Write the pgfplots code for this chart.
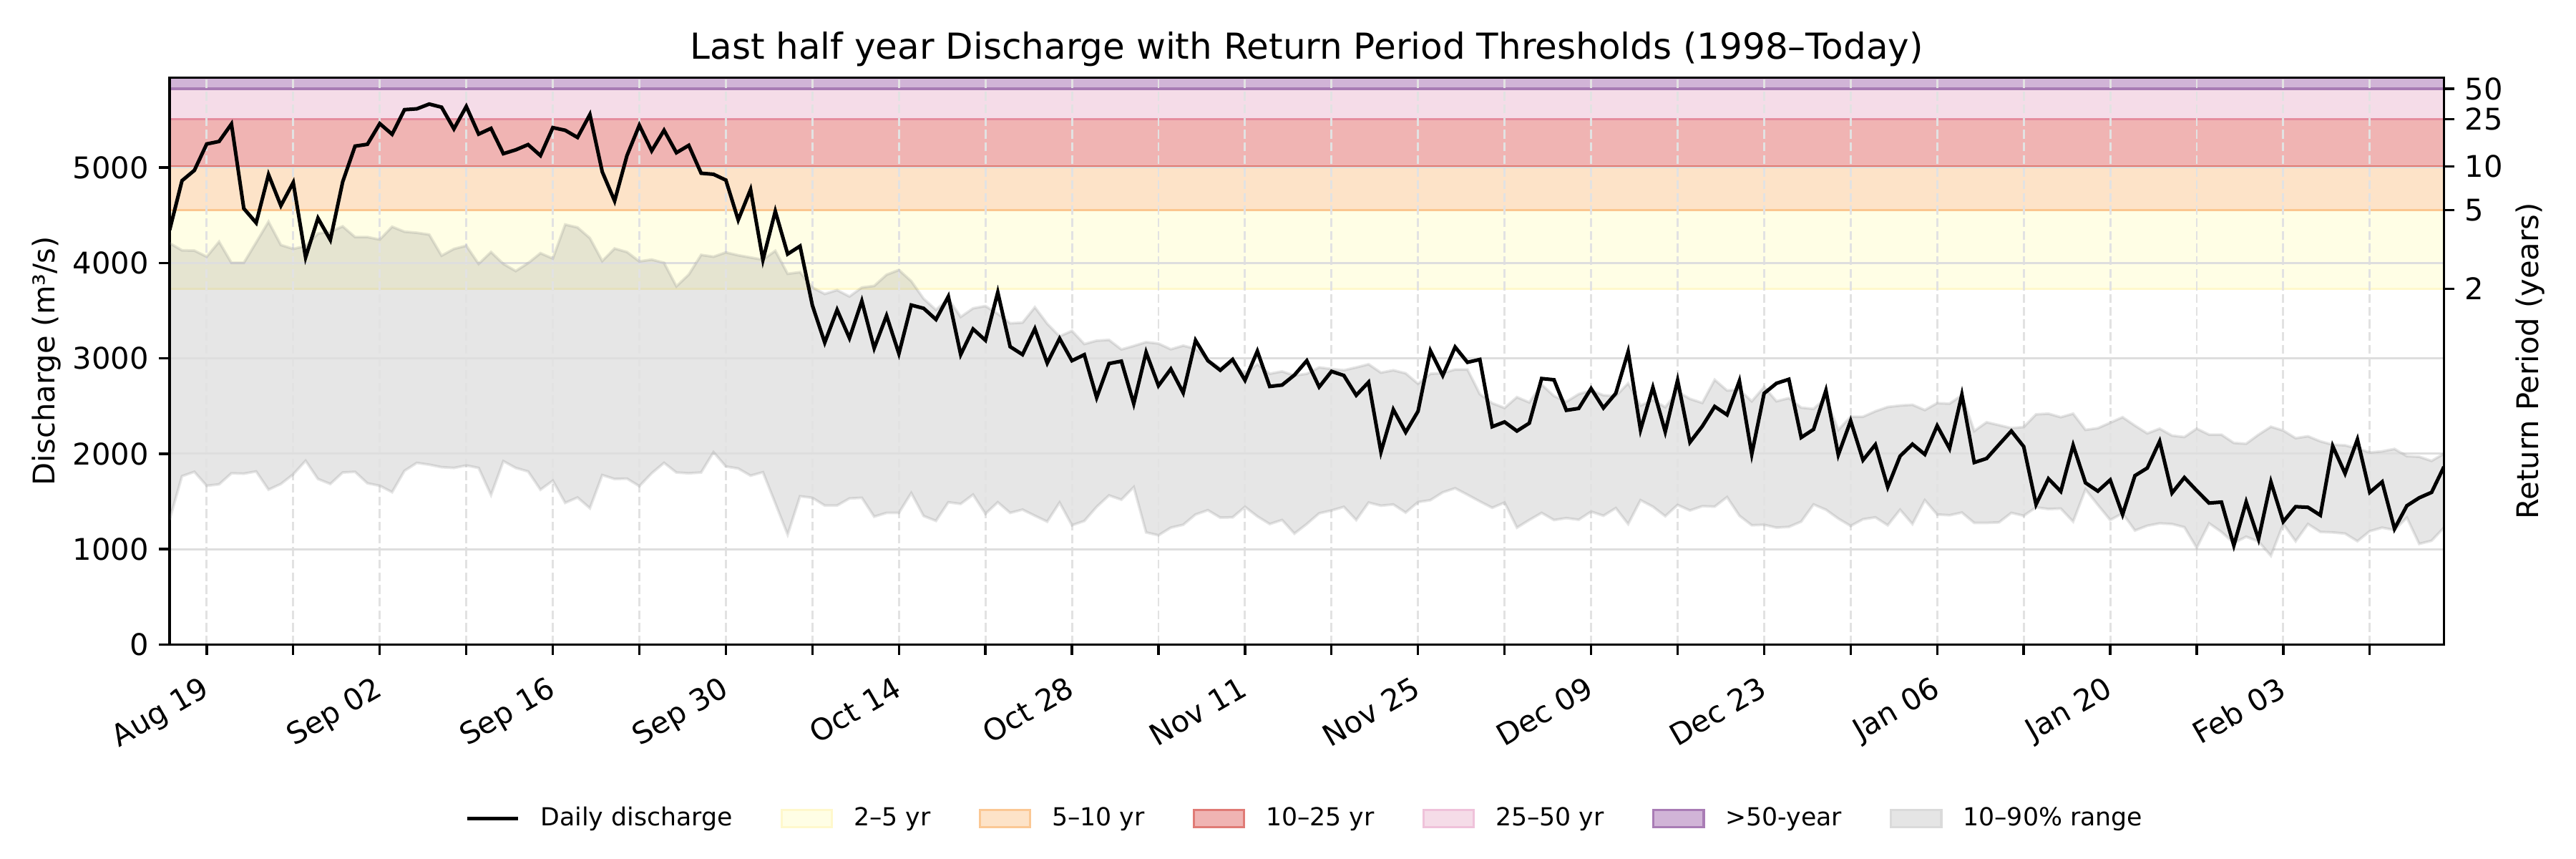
\documentclass[border=0pt]{standalone}
\usepackage{fontspec}
\setmainfont{DejaVu Sans}
\usepackage{pgfplots}
\usepackage{pgfplotstable}
\pgfplotsset{compat=1.18}
\definecolor{ctwo}{HTML}{FFFEE5}
\definecolor{cfive}{HTML}{FDE3C8}
\definecolor{cten}{HTML}{F0B4B3}
\definecolor{ctwentyfive}{HTML}{F5DCE8}
\definecolor{cfifty}{HTML}{D1B4D7}
\definecolor{etwo}{HTML}{FFF8CC}
\definecolor{efive}{HTML}{FBC894}
\definecolor{eten}{HTML}{E07B76}
\definecolor{etwentyfive}{HTML}{EFC2DA}
\definecolor{efifty}{HTML}{A97CB5}
\definecolor{lfive}{HTML}{FBC68F}
\definecolor{lten}{HTML}{E07B73}
\definecolor{ltwentyfive}{HTML}{E58D9E}
\definecolor{lfifty}{HTML}{A87BB4}
\definecolor{bandfill}{HTML}{808080}
\definecolor{bandedge}{HTML}{DADADA}
\definecolor{gridc}{HTML}{DEDEDE}
\definecolor{vgridc}{HTML}{E2E2E2}
\pgfplotsset{
  base/.style={
    scale only axis, width=762.8pt, height=190.1pt,
    at={(0pt,0pt)}, anchor=south west,
    xmin=0, xmax=184, ymin=0, ymax=5943,
    enlargelimits=false,
  }
}

\pgfplotstableread{
day q lo hi
0 4345 1310 4207
1 4862 1765 4132
2 4970 1810 4129
3 5247 1664 4065
4 5273 1679 4222
5 5456 1795 4001
6 4570 1791 4001
7 4420 1814 4215
8 4925 1623 4432
9 4600 1683 4188
10 4843 1784 4147
11 4058 1926 4177
12 4469 1735 4308
13 4241 1683 4327
14 4850 1803 4383
15 5224 1810 4271
16 5243 1690 4271
17 5460 1664 4245
18 5348 1597 4379
19 5606 1821 4327
20 5615 1904 4316
21 5665 1885 4297
22 5632 1859 4076
23 5405 1851 4147
24 5640 1877 4180
25 5350 1851 3990
26 5410 1567 4114
27 5145 1922 3990
28 5185 1851 3915
29 5240 1814 3998
30 5125 1623 4102
31 5418 1717 4046
32 5390 1485 4402
33 5315 1541 4372
34 5555 1429 4260
35 4955 1776 4020
36 4650 1735 4151
37 5125 1739 4114
38 5443 1660 4016
39 5175 1795 4035
40 5390 1904 4001
41 5155 1803 3755
42 5232 1795 3878
43 4940 1803 4084
44 4929 2016 4065
45 4868 1866 4110
46 4450 1845 4080
47 4770 1770 4057
48 4032 1806 4034
49 4542 1481 4127
50 4093 1152 3886
51 4176 1554 3903
52 3555 1538 3742
53 3165 1457 3675
54 3508 1457 3715
55 3212 1531 3648
56 3601 1538 3742
57 3106 1340 3759
58 3447 1380 3876
59 3049 1380 3926
60 3558 1588 3809
61 3524 1347 3625
62 3407 1296 3508
63 3648 1491 3625
64 3039 1474 3434
65 3307 1571 3524
66 3189 1370 3548
67 3692 1491 3467
68 3122 1380 3367
69 3039 1414 3374
70 3310 1350 3535
71 2950 1288 3363
72 3208 1488 3230
73 2975 1250 3288
74 3038 1295 3150
75 2588 1443 3185
76 2945 1563 3193
77 2970 1518 3093
78 2525 1650 3130
79 3063 1175 3170
80 2713 1145 3155
81 2888 1225 3095
82 2638 1255 3133
83 3188 1363 3100
84 2975 1408 2985
85 2875 1330 2900
86 2988 1333 2950
87 2770 1443 2838
88 3075 1343 2938
89 2705 1263 2838
90 2720 1305 2863
91 2825 1163 2820
92 2975 1263 2838
93 2700 1375 2905
94 2863 1405 2888
95 2820 1443 2875
96 2613 1305 2905
97 2750 1488 2938
98 2018 1455 2850
99 2463 1468 2875
100 2225 1383 2843
101 2445 1493 2733
102 3080 1513 2838
103 2820 1595 2845
104 3118 1638 2883
105 2958 1570 2883
106 2988 1500 2625
107 2283 1433 2530
108 2333 1488 2480
109 2238 1225 2593
110 2320 1305 2538
111 2788 1380 2725
112 2775 1305 2605
113 2455 1325 2545
114 2475 1308 2625
115 2683 1393 2663
116 2480 1350 2613
117 2633 1430 2605
118 3070 1263 2738
119 2250 1513 2505
120 2695 1445 2563
121 2230 1345 2488
122 2770 1463 2650
123 2120 1405 2575
124 2288 1450 2533
125 2495 1445 2775
126 2408 1545 2663
127 2763 1350 2670
128 1995 1250 2550
129 2633 1255 2700
130 2738 1225 2550
131 2780 1233 2583
132 2170 1288 2483
133 2255 1468 2470
134 2663 1413 2588
135 1988 1320 2250
136 2345 1243 2388
137 1933 1313 2388
138 2095 1333 2445
139 1650 1250 2490
140 1975 1413 2505
141 2100 1263 2513
142 1993 1513 2458
143 2293 1363 2530
144 2055 1355 2525
145 2620 1383 2613
146 1908 1275 2238
147 1950 1275 2330
148 2095 1280 2300
149 2238 1380 2268
150 2075 1350 2280
151 1468 1438 2413
152 1738 1420 2420
153 1605 1425 2383
154 2088 1288 2420
155 1695 1625 2250
156 1608 1463 2268
157 1725 1305 2325
158 1363 1375 2383
159 1770 1195 2295
160 1850 1245 2213
161 2130 1270 2263
162 1588 1263 2190
163 1750 1230 2175
164 1613 1013 2263
165 1483 1270 2200
166 1493 1180 2200
167 1038 1063 2113
168 1495 1130 2105
169 1105 1080 2200
170 1705 930 2283
171 1288 1263 2243
172 1445 1083 2163
173 1438 1263 2183
174 1355 1180 2130
175 2080 1175 2095
176 1793 1163 2088
177 2150 1083 2055
178 1595 1188 2013
179 1705 1225 2025
180 1213 1200 2050
181 1455 1330 1975
182 1538 1055 1968
183 1595 1088 1925
184 1863 1225 2000
}\data

\begin{document}
\begin{tikzpicture}
\useasboundingbox (-56.9pt,-71.9pt) rectangle (807.1pt,216.1pt);
% layer 1: return-period bands
\begin{axis}[base, hide axis]
\addplot[draw=none, fill=ctwo] coordinates {(0,3730) (184,3730) (184,4555) (0,4555)} -- cycle;
\addplot[draw=none, fill=cfive] coordinates {(0,4555) (184,4555) (184,5010) (0,5010)} -- cycle;
\addplot[draw=none, fill=cten] coordinates {(0,5010) (184,5010) (184,5505) (0,5505)} -- cycle;
\addplot[draw=none, fill=ctwentyfive] coordinates {(0,5505) (184,5505) (184,5825) (0,5825)} -- cycle;
\addplot[draw=none, fill=cfifty] coordinates {(0,5825) (184,5825) (184,5943) (0,5943)} -- cycle;
\addplot[etwo, line width=0.8pt] coordinates {(0,3730) (184,3730)};
\addplot[lfive, line width=0.8pt] coordinates {(0,4555) (184,4555)};
\addplot[lten, line width=0.8pt] coordinates {(0,5010) (184,5010)};
\addplot[ltwentyfive, line width=0.8pt] coordinates {(0,5505) (184,5505)};
\addplot[lfifty, line width=0.8pt] coordinates {(0,5825) (184,5825)};
\end{axis}
% layer 2: 10-90 % range as a stacked area
\begin{axis}[base, hide axis, stack plots=y]
\addplot[draw=none] table[x=day, y=lo] {\data};
\addplot[fill=bandfill, fill opacity=0.2, draw=none] table[x=day, y expr=\thisrow{hi}-\thisrow{lo}] {\data} \closedcycle;
\end{axis}
% layer 3: main axis with grid, line and legend
\begin{axis}[
  base,
  xtick={3,10,...,178},
  xticklabels={Aug 19,,Sep 02,,Sep 16,,Sep 30,,Oct 14,,Oct 28,,Nov 11,,Nov 25,,Dec 09,,Dec 23,,Jan 06,,Jan 20,,Feb 03,},
  ytick={0,1000,...,5000},
  scaled y ticks=false,
  /pgf/number format/1000 sep={},
  /pgf/number format/assume math mode=true,
  xtick pos=lower, ytick pos=left,
  tick align=outside, major tick length=3.5pt,
  tick style={line width=0.8pt, black},
  axis line style={line width=0.8pt},
  tick label style={font=\fontsize{10}{12}\selectfont},
  xticklabel style={xshift=-1pt, yshift=-2pt, rotate=30, anchor=north east},
  xmajorgrids, ymajorgrids,
  x grid style={vgridc, line width=0.7pt, dash pattern=on 2.96pt off 1.28pt},
  y grid style={gridc, line width=0.7pt},
  ylabel={Discharge (m³/s)},
  every axis y label/.style={at={(axis description cs:-0.0505,0.5)}, rotate=90, anchor=base, font=\fontsize{10}{12}\selectfont},
  title={Last half year Discharge with Return Period Thresholds (1998–Today)},
  every axis title/.style={at={(axis description cs:0.5,1)}, anchor=base, yshift=6.3pt, font=\fontsize{12}{14.4}\selectfont},
  legend columns=7,
  legend style={draw=none, fill=none, at={(0.5,-0.307)}, anchor=center,
    font=\fontsize{8.33}{10}\selectfont,
    /tikz/every odd column/.append style={column sep=4.9pt},
    /tikz/every even column/.append style={column sep=14.1pt}},
  legend cell align=left,
]
\addplot[forget plot, draw=bandfill, draw opacity=0.2, line width=0.9pt] table[x=day, y=hi] {\data};
\addplot[forget plot, draw=bandfill, draw opacity=0.2, line width=0.9pt] table[x=day, y=lo] {\data};
\addplot[forget plot, black, line width=1.2pt] table[x=day, y=q] {\data};
\addlegendimage{legend image code/.code={\draw[black, line width=1.2pt] (0pt,0pt) -- (17.2pt,0pt);}}
\addlegendentry{Daily discharge}
\addlegendimage{legend image code/.code={\draw[fill=ctwo, draw=etwo, line width=0.8pt] (0pt,-2.9pt) rectangle (16.9pt,2.9pt);}}
\addlegendentry{2–5 yr}
\addlegendimage{legend image code/.code={\draw[fill=cfive, draw=efive, line width=0.8pt] (0pt,-2.9pt) rectangle (16.9pt,2.9pt);}}
\addlegendentry{5–10 yr}
\addlegendimage{legend image code/.code={\draw[fill=cten, draw=eten, line width=0.8pt] (0pt,-2.9pt) rectangle (16.9pt,2.9pt);}}
\addlegendentry{10–25 yr}
\addlegendimage{legend image code/.code={\draw[fill=ctwentyfive, draw=etwentyfive, line width=0.8pt] (0pt,-2.9pt) rectangle (16.9pt,2.9pt);}}
\addlegendentry{25–50 yr}
\addlegendimage{legend image code/.code={\draw[fill=cfifty, draw=efifty, line width=0.8pt] (0pt,-2.9pt) rectangle (16.9pt,2.9pt);}}
\addlegendentry{>50-year}
\addlegendimage{legend image code/.code={\draw[fill=black!10, draw=bandedge, line width=0.8pt] (0pt,-2.9pt) rectangle (16.9pt,2.9pt);}}
\addlegendentry{10–90\% range}
\end{axis}
% layer 4: return-period axis
\begin{axis}[
  base,
  axis x line=none, axis y line*=right,
  axis line style={line width=0.8pt},
  tick align=outside, major tick length=3.5pt,
  tick style={line width=0.8pt, black},
  ytick={3730,4555,5010,5505,5825},
  yticklabels={2,5,10,25,50},
  tick label style={font=\fontsize{10}{12}\selectfont},
  ylabel={Return Period (years)},
  every axis y label/.style={at={(axis description cs:1.0414,0.5)}, rotate=90, anchor=base, font=\fontsize{10}{12}\selectfont},
]
\addplot[draw=none] coordinates {(0,3730) (184,5825)};
\end{axis}
\end{tikzpicture}
\end{document}
